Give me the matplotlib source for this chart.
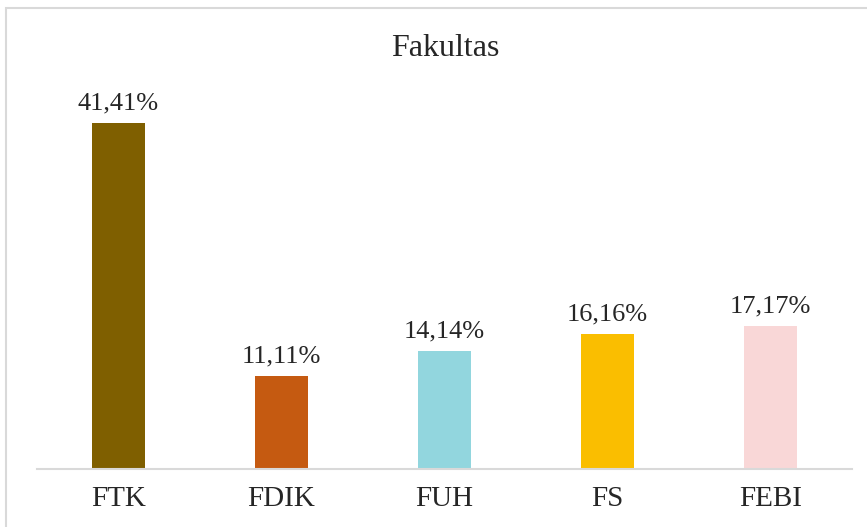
import matplotlib.pyplot as plt
from matplotlib.patches import Rectangle

categories = ["FTK", "FDIK", "FUH", "FS", "FEBI"]
values = [41.41, 11.11, 14.14, 16.16, 17.17]
labels = ["41,41%", "11,11%", "14,14%", "16,16%", "17,17%"]
colors = ["#7F5F00", "#C55A11", "#92D6DE", "#FABE00", "#F9D7D7"]

plt.rcParams["font.family"] = ["Liberation Serif", "DejaVu Serif"]

W, H = 867, 527
fig = plt.figure(figsize=(W / 100, H / 100), dpi=100)
fig.patch.set_facecolor("white")

# chart frame (cut off at right and bottom in the original)
fig.add_artist(Rectangle((6 / W, -0.1), 1.2, 1 - 8 / H + 0.1, transform=fig.transFigure,
                         fill=False, edgecolor="#D9D9D9", linewidth=1.5))

ax = fig.add_axes([37 / W, (H - 469) / H, 815 / W, (469 - 93) / H])
x = range(len(categories))
ax.bar(x, values, width=0.32, color=colors)
for xi, v, lab in zip(x, values, labels):
    ax.annotate(lab, (xi, v), xytext=(0, 6), textcoords="offset points",
                ha="center", va="bottom", fontsize=19, color="#262626")

ax.set_xlim(-0.5, len(categories) - 0.5)
ax.set_ylim(0, 45)
ax.set_xticks(list(x))
ax.set_xticklabels(categories, fontsize=21, color="#262626")
ax.tick_params(axis="x", length=0, pad=12)
ax.set_yticks([])
for side in ["top", "right", "left"]:
    ax.spines[side].set_visible(False)
ax.spines["bottom"].set_color("#D9D9D9")
ax.spines["bottom"].set_linewidth(1.5)

fig.text(445 / W, 1 - 48 / H, "Fakultas", ha="center", va="center", fontsize=23, color="#262626")

fig.savefig("out.png", dpi=100)
